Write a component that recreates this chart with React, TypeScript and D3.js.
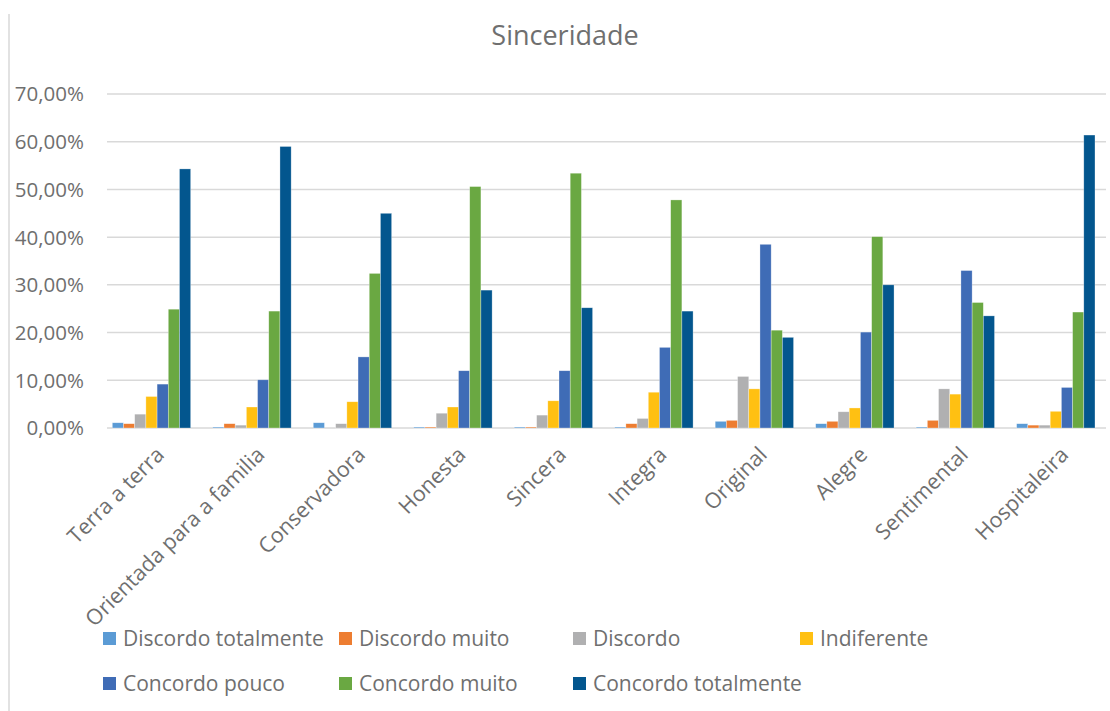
import React from "react";
import * as d3 from "d3";

// Brand personality attributes (x categories)
const categories = [
  "Terra a terra",
  "Orientada para a familia",
  "Conservadora",
  "Honesta",
  "Sincera",
  "Integra",
  "Original",
  "Alegre",
  "Sentimental",
  "Hospitaleira",
];

// Likert answer levels (series)
const seriesNames = [
  "Discordo totalmente",
  "Discordo muito",
  "Discordo",
  "Indiferente",
  "Concordo pouco",
  "Concordo muito",
  "Concordo totalmente",
];

const seriesColors = [
  "#5b9bd5",
  "#ed7d31",
  "#b0b0b1",
  "#ffc012",
  "#3f6cb6",
  "#6aa842",
  "#03568e",
];

// Share of answers (%) per level, one value per category
const discordoTotalmente = [1.1, 0.2, 1.1, 0.2, 0.2, 0.2, 1.4, 0.9, 0.2, 0.9];
const discordoMuito = [0.9, 0.9, 0.0, 0.2, 0.2, 0.9, 1.6, 1.4, 1.6, 0.6];
const discordo = [2.9, 0.6, 0.9, 3.1, 2.7, 2.0, 10.8, 3.4, 8.2, 0.6];
const indiferente = [6.6, 4.4, 5.5, 4.4, 5.7, 7.5, 8.2, 4.2, 7.1, 3.5];
const concordoPouco = [9.2, 10.1, 14.9, 12.0, 12.0, 16.9, 38.5, 20.1, 33.0, 8.5];
const concordoMuito = [24.9, 24.5, 32.4, 50.6, 53.4, 47.8, 20.5, 40.1, 26.3, 24.3];
const concordoTotalmente = [54.3, 59.0, 45.0, 28.9, 25.2, 24.5, 19.0, 30.0, 23.5, 61.4];

const seriesValues = [
  discordoTotalmente,
  discordoMuito,
  discordo,
  indiferente,
  concordoPouco,
  concordoMuito,
  concordoTotalmente,
];

const yTicks = [0, 10, 20, 30, 40, 50, 60, 70];

const W = 1110;
const H = 711;
const FONT = "'Open Sans', 'Noto Sans', sans-serif";
const TEXT = "#6f6f6f";
const GRID = "#d9d9d9";

export default function App() {
  const plotLeft = 107;
  const plotRight = 1106;
  const plotTop = 94;
  const plotBottom = 428;

  const y = d3.scaleLinear().domain([0, 70]).range([plotBottom, plotTop]);

  const x0 = d3
    .scaleBand<string>()
    .domain(categories)
    .range([101.25, 1106.05])
    .paddingInner(0.22)
    .paddingOuter(0.11);

  const x1 = d3
    .scaleBand<string>()
    .domain(seriesNames)
    .range([0, x0.bandwidth()]);

  const fmt = (v: number) => d3.format(".2f")(v).replace(".", ",") + "%";

  const legendCols = [103, 339, 573, 800];
  const legendRows = [632, 677];

  return (
    <svg
      width={W}
      height={H}
      style={{ position: "absolute", left: 0, top: 0, background: "#fff" }}
      fontFamily={FONT}
    >
      <rect x={0} y={0} width={W} height={H} fill="#fff" />
      {/* left border of the chart frame */}
      <line x1={9} x2={9} y1={14} y2={H} stroke={GRID} strokeWidth={1.5} />

      <text x={565} y={45} textAnchor="middle" fontSize={27} fill={TEXT}>
        Sinceridade
      </text>

      {/* gridlines and value axis */}
      {yTicks.map((t) => (
        <g key={t}>
          <line
            x1={plotLeft}
            x2={plotRight}
            y1={y(t)}
            y2={y(t)}
            stroke={GRID}
            strokeWidth={1.5}
          />
          <text
            x={84}
            y={y(t)}
            dy="0.36em"
            textAnchor="end"
            fontSize={20.5}
            fill={TEXT}
          >
            {fmt(t)}
          </text>
        </g>
      ))}

      {/* bars */}
      {categories.map((c, ci) => (
        <g key={c} transform={`translate(${x0(c)},0)`}>
          {seriesNames.map((s, si) => {
            const v = seriesValues[si][ci];
            return (
              <rect
                key={s}
                x={x1(s)}
                y={y(v)}
                width={x1.bandwidth()}
                height={y(0) - y(v)}
                fill={seriesColors[si]}
                stroke="#ffffff"
                strokeOpacity={0.5}
                strokeWidth={0.6}
              />
            );
          })}
        </g>
      ))}

      {/* category labels */}
      {categories.map((c) => {
        const cx = (x0(c) ?? 0) + x0.bandwidth() / 2;
        return (
          <text
            key={c}
            transform={`translate(${cx + 14},${456}) rotate(-45)`}
            textAnchor="end"
            fontSize={21.5}
            fill={TEXT}
          >
            {c}
          </text>
        );
      })}

      {/* legend */}
      {seriesNames.map((s, i) => {
        const col = i % 4;
        const row = Math.floor(i / 4);
        const lx = legendCols[col];
        const ly = legendRows[row];
        return (
          <g key={s}>
            <rect x={lx} y={ly} width={13} height={13} fill={seriesColors[i]} />
            <text x={lx + 20} y={ly + 13.5} fontSize={21} fill={TEXT}>
              {s}
            </text>
          </g>
        );
      })}
    </svg>
  );
}
